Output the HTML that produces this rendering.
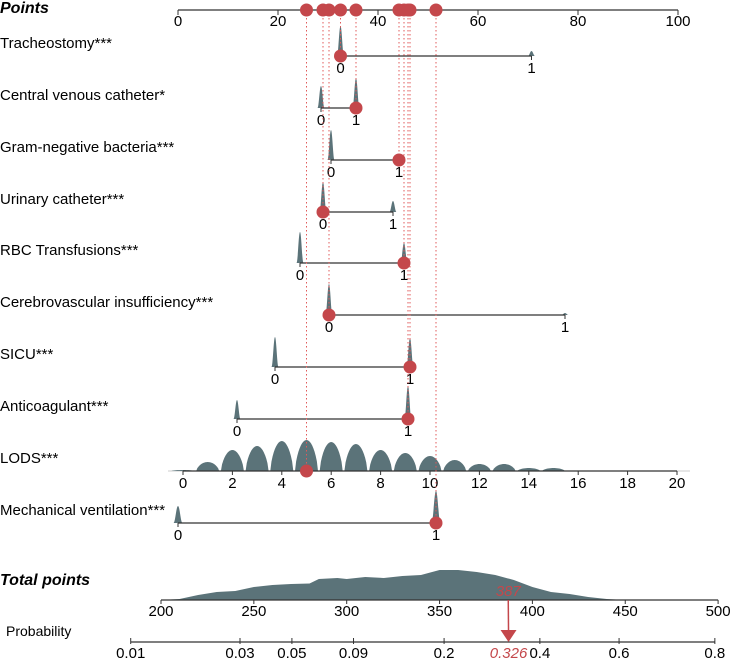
<!DOCTYPE html>
<html><head><meta charset="utf-8"><style>
body{margin:0;background:#fff;}
svg{display:block;font-family:"Liberation Sans",Arial,sans-serif;}
</style></head><body>
<svg id="chart" width="731" height="660" viewBox="0 0 731 660" xmlns="http://www.w3.org/2000/svg"></svg>
<script>
// ---- data ----
const pointsTicks = [0,20,40,60,80,100];
const varNames = ["Tracheostomy***","Central venous catheter*","Gram-negative bacteria***","Urinary catheter***","RBC Transfusions***","Cerebrovascular insufficiency***","SICU***","Anticoagulant***"];
const rowY = [56,108,160,212,263,315,367,419];
const pts0 = [32.5,28.6,30.6,29.0,24.4,30.2,19.4,11.8];
const pts1 = [70.7,35.6,44.2,43.0,45.2,77.4,46.4,46.0];
const dens0 = [30,22,30,30,31,31,30,19];
const dens1 = [5,30,5,11,20,2,29,33];
const selected = [0,1,1,0,1,0,1,1];
const lodsTicks = [0,2,4,6,8,10,12,14,16,18,20];
const lodsDens = [1,9,21,25,30,31,29,27,21,18,15,11,7,7,3,3,0.5];
const lodsSelected = 5;
const mvPts = [0,51.6];
const mvDens = [17,32];
const mvSelected = 1;
const totalTicks = [200,250,300,350,400,450,500];
const totalDensX = [200,210,220,230,240,250,260,270,280,285,295,300,310,320,330,340,350,360,370,380,390,400,410,420,430,440,450];
const totalDensH = [0,1,5,8,9,13,15,16,16.5,21,22,21,23,22,24,25,30,30,28,25,20,13,8,6,3,1,0];
const probTicks = [0.01,0.03,0.05,0.09,0.2,0.4,0.6,0.8];
const totalValue = 387;
const probValue = 0.326;

// ---- scales ----
const px = p => 178 + p*5;
const lodsX = v => 183 + v*24.7;
const lodsPts = v => (lodsX(v)-178)/5;
const tx = t => 161 + (t-200)*1.857;
const logit = p => Math.log(p/(1-p));
const probX = p => 240 + (logit(p)+3.476)*97.66;

const svg = document.getElementById('chart');
const NS = "http://www.w3.org/2000/svg";
function el(tag, attrs, parent){const e=document.createElementNS(NS,tag);for(const k in attrs)e.setAttribute(k,attrs[k]);(parent||svg).appendChild(e);return e;}
function txt(x,y,s,attrs,parent){const e=el('text',Object.assign({x:x,y:y},attrs||{}),parent);e.textContent=s;return e;}
const DC="#5b7379", RED="#c4474b", LC="#333";
function spike(x,y,h,w,name){
  const e=el('path',{d:`M${x-w} ${y} C${x-w*0.6} ${y} ${x-w*0.4} ${y-h} ${x} ${y-h} C${x+w*0.4} ${y-h} ${x+w*0.6} ${y} ${x+w} ${y} Z`,fill:DC});
  
  
}
function hump(x,y,h,w,name){
  let d=`M${x-w} ${y}`;
  for(let i=0;i<=20;i++){const u=-1+i/10;d+=` L${x+u*w} ${y-h*Math.pow(Math.max(0,1-u*u),0.7)}`;}
  d+=' Z';
  const e=el('path',{d:d,fill:DC});
  
  
}

// Points axis
let g=el('g',{});


let t=txt(0,13,"Points",{'font-size':16,'font-weight':'bold','font-style':'italic'});


el('line',{x1:px(0),x2:px(100),y1:10,y2:10,stroke:LC,'stroke-width':1.3},g);
pointsTicks.forEach(v=>{el('line',{x1:px(v),x2:px(v),y1:10,y2:15,stroke:LC},g);txt(px(v),26,String(v),{'font-size':15,'text-anchor':'middle'},g);});

const selPts=[];
varNames.forEach((n,i)=>{
  const y=rowY[i];
  let l=txt(0,y-8,n,{'font-size':15});
  
  
  spike(px(pts0[i]),y,dens0[i],3.5,'density-0');
  spike(px(pts1[i]),y,dens1[i],3.5,'density-1');
  el('line',{x1:px(pts0[i]),x2:px(pts1[i]),y1:y,y2:y,stroke:LC,'stroke-width':1.3});
  [0,1].forEach(k=>{const x=px(k?pts1[i]:pts0[i]);el('line',{x1:x,x2:x,y1:y,y2:y+4,stroke:LC});txt(x,y+17,String(k),{'font-size':15,'text-anchor':'middle'});});
  selPts.push({p:selected[i]?pts1[i]:pts0[i],y:y});
});
// LODS
{
  const y=471;
  let l=txt(0,y-8,"LODS***",{'font-size':15});
  
  
  el('line',{x1:168,x2:690,y1:y,y2:y,stroke:"#ccc",'stroke-width':1});
  lodsDens.forEach((h,v)=>{hump(lodsX(v),y,h,11.5,'lods-density');});
  el('line',{x1:lodsX(0),x2:lodsX(20),y1:y,y2:y,stroke:LC,'stroke-width':1.3});
  lodsTicks.forEach(v=>{el('line',{x1:lodsX(v),x2:lodsX(v),y1:y,y2:y+4,stroke:LC});txt(lodsX(v),y+17,String(v),{'font-size':15,'text-anchor':'middle'});});
  selPts.push({p:lodsPts(lodsSelected),y:y});
}
// Mechanical ventilation
{
  const y=523;
  let l=txt(0,y-8,"Mechanical ventilation***",{'font-size':15});
  
  
  spike(px(mvPts[0]),y,mvDens[0],4.5,'mv-density-0');
  spike(px(mvPts[1]),y,mvDens[1],4.5,'mv-density-1');
  el('line',{x1:px(mvPts[0]),x2:px(mvPts[1]),y1:y,y2:y,stroke:LC,'stroke-width':1.3});
  [0,1].forEach(k=>{const x=px(mvPts[k]);el('line',{x1:x,x2:x,y1:y,y2:y+4,stroke:LC});txt(x,y+17,String(k),{'font-size':15,'text-anchor':'middle'});});
  selPts.push({p:mvPts[mvSelected],y:y});
}
selPts.forEach(s=>{
  const x=px(s.p);
  const d=el('line',{x1:x,x2:x,y1:10,y2:s.y,stroke:"#e05a5a",'stroke-width':1,'stroke-dasharray':'1.5 2.5'});
  
  
});
selPts.forEach(s=>{
  const x=px(s.p);
  const c1=el('circle',{cx:x,cy:10,r:6.5,fill:RED});
  
  
  const c2=el('circle',{cx:x,cy:s.y,r:6.5,fill:RED});
  
  
});

// Total points
{
  const y=600;
  let l=txt(0,585,"Total points",{'font-size':16,'font-weight':'bold','font-style':'italic'});
  
  
  let d=`M${tx(totalDensX[0])} ${y}`;
  totalDensX.forEach((v,i)=>{d+=` L${tx(v)} ${y-totalDensH[i]}`;});
  d+=` L${tx(totalDensX[totalDensX.length-1])} ${y} Z`;
  const a=el('path',{d:d,fill:DC,'stroke-linejoin':'round'});
  
  
  el('line',{x1:tx(200),x2:tx(500),y1:y,y2:y,stroke:LC,'stroke-width':1.3});
  totalTicks.forEach(v=>{el('line',{x1:tx(v),x2:tx(v),y1:y,y2:y+4,stroke:LC});txt(tx(v),y+16,String(v),{'font-size':15,'text-anchor':'middle'});});
}
// Probability
{
  const y=642;
  let l=txt(6,636,"Probability",{'font-size':14});
  
  
  el('line',{x1:probX(0.01),x2:probX(0.8),y1:y,y2:y,stroke:LC,'stroke-width':1.3});
  probTicks.forEach(v=>{el('line',{x1:probX(v),x2:probX(v),y1:y-4,y2:y+2,stroke:LC});txt(probX(v),y+16,String(v),{'font-size':15,'text-anchor':'middle'});});
  const xt=tx(totalValue), xp=probX(probValue);
  const ar=el('line',{x1:xt,x2:xp,y1:600,y2:632,stroke:RED,'stroke-width':1.5});
  
  
  el('path',{d:`M${xp-8} 630 L${xp+8} 630 L${xp} 642 Z`,fill:RED});
  txt(xt,596,String(totalValue),{'font-size':15,'font-style':'italic',fill:RED,'text-anchor':'middle'});
  const pv=txt(xp,658,probValue.toFixed(3),{'font-size':15,'font-style':'italic',fill:RED,'text-anchor':'middle'});
  
  
}
</script>
</body></html>
